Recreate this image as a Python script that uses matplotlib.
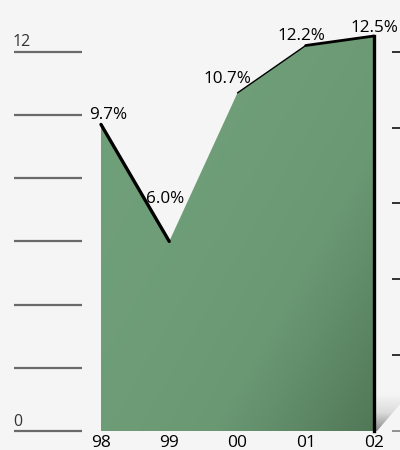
import numpy as np
import matplotlib.pyplot as plt
from matplotlib.patches import Polygon
from matplotlib.colors import LinearSegmentedColormap

# ---- data ----
years = ['98', '99', '00', '01', '02']
values = [9.7, 6.0, 10.7, 12.2, 12.5]
left_ticks = [0, 2, 4, 6, 8, 10, 12]
left_labels = {0: '0', 12: '12'}
right_ticks = list(np.linspace(0, 12, 6))

plt.rcParams['font.family'] = ['Open Sans', 'DejaVu Sans']

fig = plt.figure(figsize=(4.0, 4.5), dpi=100)
fig.patch.set_facecolor('#f5f5f5')
ax = fig.add_axes([0, 0, 1, 1])
ax.set_facecolor('#f5f5f5')

# pixel -> data mapping: x index 0 at px 101, step 68.25 px; y 0 at px 431, 31.6 px/unit
xstep, x0px = 68.25, 101
ystep, y0px = 31.6, 431
ax.set_xlim((0 - x0px) / xstep, (400 - x0px) / xstep)
ax.set_ylim((y0px - 450) / ystep, y0px / ystep)
ax.axis('off')

def px_x(p):
    return (p - x0px) / xstep

xs = np.arange(len(years))

# left reference lines
for t in left_ticks:
    ax.plot([px_x(14), px_x(82)], [t, t], color='#6a6a6a', lw=1.6,
            solid_capstyle='butt')
    if t in left_labels:
        ax.text(px_x(13), t + 0.17, left_labels[t], fontsize=11.5,
                color='#333333', ha='left', va='baseline')

# right short ticks
for i, t in enumerate(right_ticks):
    ax.plot([px_x(392), px_x(401)], [t, t],
            color='#222222' if i > 0 else '#888888', lw=1.3,
            solid_capstyle='butt')

# shadow at bottom right
sh = Polygon([(xs[-1], 1.15), (px_x(400), 1.15), (px_x(400), 0.85),
              (px_x(377), 0.0), (xs[-1], 0.0)], closed=True,
             facecolor='none', edgecolor='none')
ax.add_patch(sh)
sgrad = np.linspace(0, 1, 100).reshape(-1, 1)
scmap = LinearSegmentedColormap.from_list('s', ['#8a8a8a', '#dcdcdc', '#f5f5f5'])
im2 = ax.imshow(sgrad, extent=[xs[-1], px_x(400), 0.0, 1.15], origin='lower',
                cmap=scmap, aspect='auto', zorder=1)
im2.set_clip_path(sh)

# gradient-filled area
verts = [(xs[0], 0)] + list(zip(xs, values)) + [(xs[-1], 0)]
poly = Polygon(verts, closed=True, facecolor='none', edgecolor='none')
ax.add_patch(poly)
gx, gy = np.meshgrid(np.linspace(0, 1, 200), np.linspace(0, 1, 200))
g = (gx * 0.55 + (1 - gy) * 0.45) ** 1.8
cmap = LinearSegmentedColormap.from_list('g', ['#70a07a', '#6a9873', '#517757'])
im = ax.imshow(g, extent=[xs[0], xs[-1], 0, max(values)], origin='lower',
               cmap=cmap, aspect='auto', zorder=2)
im.set_clip_path(poly)

# edges
edge_w = [2.4, 0, 1.0, 2.0]
for i, w in enumerate(edge_w):
    if w > 0:
        ax.plot(xs[i:i + 2], values[i:i + 2], color='black', lw=w, zorder=3,
                solid_capstyle='round')
ax.plot([xs[-1], xs[-1]], [0, values[-1]], color='black', lw=2.4, zorder=3)

# value labels (offset in index / value units)
offsets = [(0.10, 0.17), (-0.06, 1.2), (-0.15, 0.31), (-0.06, 0.17), (0.01, 0.13)]
for x, v, (dx, dy) in zip(xs, values, offsets):
    ax.text(x + dx, v + dy, f'{v:.1f}%', fontsize=12.3, color='black',
            ha='center', va='baseline', zorder=4)

# x labels
for x, lab in zip(xs, years):
    ax.text(x, -0.37, lab, fontsize=12.5, color='black', ha='center', va='center',
            fontweight='medium')

fig.savefig('out.png', dpi=100, facecolor=fig.get_facecolor())
